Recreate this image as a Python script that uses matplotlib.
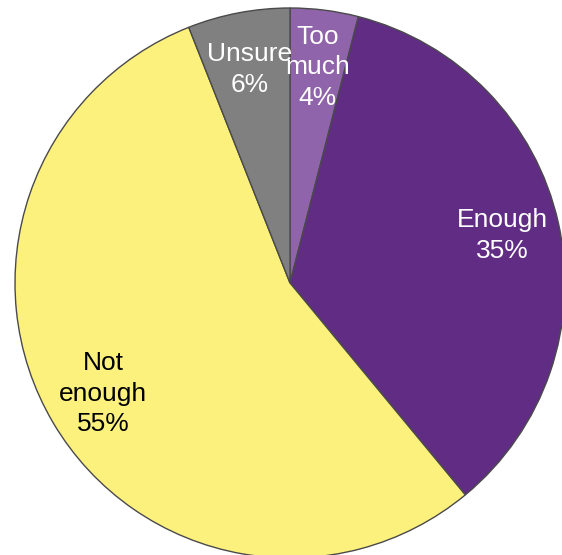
import matplotlib
matplotlib.use("Agg")
import matplotlib.pyplot as plt

plt.rcParams["font.family"] = ["Liberation Sans", "DejaVu Sans"]

# share of responses, clockwise from 12 o'clock
categories = ["Too\nmuch", "Enough", "Not\nenough", "Unsure"]
shares = [4, 35, 55, 6]
colors = ["#9064AA", "#602C84", "#FDF17D", "#808080"]
label_colors = ["white", "white", "black", "white"]

W, H = 562, 555
fig = plt.figure(figsize=(W / 100, H / 100), dpi=100)
ax = fig.add_axes([0, 0, 1, 1])

wedges, _, autotexts = ax.pie(
    shares,
    colors=colors,
    startangle=90,
    counterclock=False,
    center=(290, H - 283),
    radius=275,
    autopct="%d%%",
    pctdistance=0.79,
    wedgeprops=dict(edgecolor="#4a4a4a", linewidth=1.0),
    textprops=dict(fontsize=19),
)
for t, name, share, c in zip(autotexts, categories, shares, label_colors):
    t.set_text(f"{name}\n{share}%")
    t.set_color(c)
    t.set_linespacing(1.35)

ax.set_xlim(0, W)
ax.set_ylim(0, H)
ax.set_aspect("equal")
ax.axis("off")

fig.savefig("out.png", dpi=100)
